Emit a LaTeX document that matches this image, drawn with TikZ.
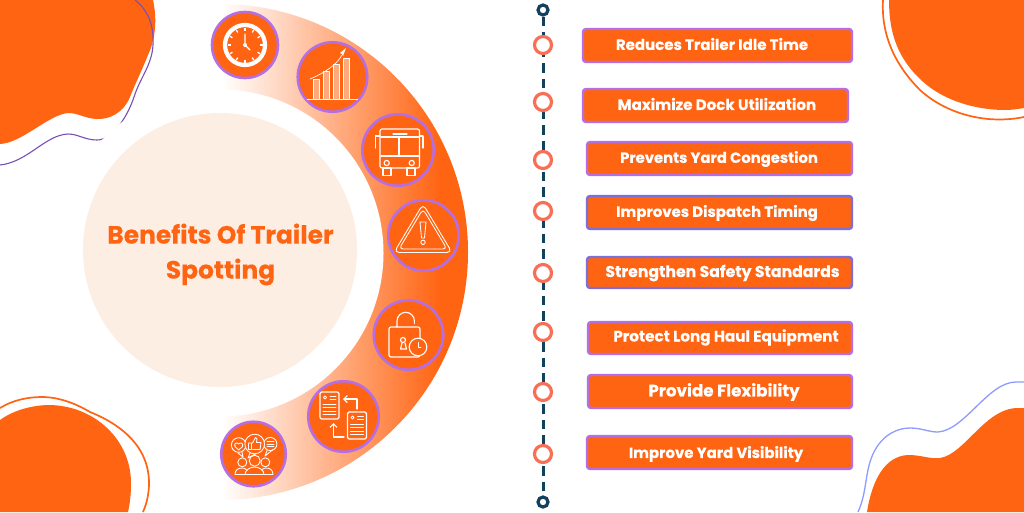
\documentclass[tikz,border=0pt]{standalone}
\usepackage{fontspec}
\setmainfont[BoldFeatures={FakeBold=0.25}]{Poppins}
\usetikzlibrary{arrows.meta}
\definecolor{org}{HTML}{FF6412}
\definecolor{cream}{HTML}{FDEEE3}
\definecolor{purp}{HTML}{B56FE2}
\definecolor{navy}{HTML}{12405F}
\definecolor{salmon}{HTML}{F96F55}
\definecolor{bluish}{HTML}{7C6FD8}
\definecolor{peri}{HTML}{8F9BFF}
\definecolor{vio}{HTML}{7A4FB8}
\tikzset{
 iconbg/.style={circle,fill=org,draw=purp,line width=2.6pt,minimum size=#1,inner sep=0pt,outer sep=0pt},
 benefit/.style={draw=purp,fill=org,line width=2.4pt,rounded corners=3pt,inner sep=0pt,outer sep=0pt,anchor=north west},
 stop/.style={circle,draw=salmon,fill=white,line width=3.2pt,minimum size=17pt,inner sep=0pt},
 endstop/.style={circle,draw=navy,fill=white,line width=3.2pt,minimum size=10pt,inner sep=0pt},
 ico/.style={draw=white,line width=1.15pt,line join=round,line cap=round},
 thinico/.style={draw=white,line width=.85pt,line join=round,line cap=round},
 ttl/.style={text=org,font=\bfseries\fontsize{24.9}{35}\selectfont,align=center},
 btext/.style={text=white,font=\bfseries\fontsize{#1}{16}\selectfont,inner sep=0pt}
}
\begin{document}
\begin{tikzpicture}[x=1pt,y=-1pt]
\useasboundingbox (0,0) rectangle (1024,512);
\fill[white] (0,0) rectangle (1024,512);
% corner blobs
\fill[org] (0,0) -- (153,0) .. controls (157,18) and (156,38) .. (148,55) .. controls (142,70) and (136,82) .. (130,97) .. controls (124,112) and (110,120) .. (96,119) .. controls (84,118) and (78,113) .. (68,113) .. controls (48,115) and (22,143) .. (0,144) -- cycle;
\draw[vio,line width=1.1pt] (135,0) .. controls (148,10) and (154,25) .. (153,45) .. controls (152,65) and (140,78) .. (134,97) .. controls (127,118) and (112,140) .. (97,140) .. controls (85,140) and (78,134) .. (68,134) .. controls (45,135) and (28,162) .. (0,165);
\fill[org] (0,420) .. controls (15,409) and (35,405) .. (50,405) .. controls (95,406) and (131,440) .. (131,483) .. controls (131,495) and (130,503) .. (128,512) -- (0,512) -- cycle;
\draw[org,line width=1.7pt] (0,408) .. controls (13,400) and (28,397) .. (42,397) .. controls (58,397) and (75,403) .. (90,412) .. controls (110,420) and (149,440) .. (149,483) .. controls (149,493) and (147,503) .. (143,512);
\fill[org] (867,512) .. controls (872,480) and (885,456) .. (908,455) .. controls (922,455) and (928,459) .. (940,458) .. controls (965,454) and (985,408) .. (1018,408) -- (1024,408) -- (1024,512) -- cycle;
\draw[peri,line width=1.3pt] (858,512) .. controls (868,490) and (864,470) .. (875,450) .. controls (884,434) and (898,428) .. (910,428) .. controls (922,428) and (928,432) .. (938,432) .. controls (965,430) and (988,382) .. (1016,382) -- (1024,382);
\fill[org] (889,0) .. controls (889,30) and (896,55) .. (918,77) .. controls (940,100) and (975,110) .. (1005,110) .. controls (1012,110) and (1018,109) .. (1024,108) -- (1024,0) -- cycle;
\draw[org,line width=1.7pt] (883,0) .. controls (881,35) and (895,65) .. (920,90) .. controls (945,113) and (985,125) .. (1024,117);
% gradient ring
\begin{scope}
 \clip (220,0) rectangle (480,512);
 \clip (220,252) circle[radius=248];
 \shade[left color=white,right color=org] (222,0) rectangle (440,512);
 \fill[org] (439.5,0) rectangle (480,512);
\end{scope}
\fill[white] (220,253) circle[radius=163.5];
\fill[cream] (220,250) circle[radius=137];
\node[ttl] (title) at (220.5,254.5) {Benefits Of Trailer\\Spotting};
% icon discs
\node[iconbg=66pt] (i1) at (245,45) {};
\node[iconbg=69.5pt] (i2) at (332.5,77) {};
\node[iconbg=71.5pt] (i3) at (398,150) {};
\node[iconbg=70.5pt] (i4) at (423.5,235.5) {};
\node[iconbg=69.5pt] (i5) at (408.5,335) {};
\node[iconbg=70.5pt] (i6) at (343.5,416.5) {};
\node[iconbg=64.5pt] (i7) at (253.5,454) {};
% clock
\begin{scope}[shift={(245,45)}]
 \draw[white,line width=4.2pt] (0,0) circle[radius=20];
 \foreach \a in {0,30,...,330} \draw[white,line width=1.3pt] (\a:14.5) -- (\a:17.5);
 \draw[white,line width=1.2pt,line cap=round] (0,-11) -- (0,0) -- (5,5);
 \fill[white] (0,0) circle[radius=2];
\end{scope}
% chart
\foreach \xa/\ya in {313/79,323/71,333/64,343/58}{
 \fill[white,opacity=.45] (\xa,\ya) rectangle (\xa+6,99);
 \draw[white,line width=.6pt] (\xa,\ya) rectangle (\xa+6,99);
}
\draw[white,line width=.7pt] (307,99) -- (358,99);
\draw[white,line width=.7pt] (310,79) .. controls (322,74) and (336,66) .. (342,55);
\fill[white] (346,48) -- (340,53) -- (342,54) -- (343,56) -- cycle;
% bus
\draw[ico,rounded corners=2pt] (380,129) rectangle (419.5,168);
\draw[ico] (381,137) -- (418.5,137) (381,156) -- (418.5,156) (399,137) -- (399,156);
\draw[ico] (393,134) -- (407,134);
\draw[ico] (386.7,163) circle[radius=2.6] (411.7,163) circle[radius=2.6];
\draw[ico] (383,168) rectangle (391,175.5) (407,168) rectangle (415,175.5);
\draw[ico] (380,136) -- (375.7,136) -- (375.7,148) (419.5,136) -- (423,136) -- (423,148);
% warning
\draw[thinico,rounded corners=5pt] (423,204) -- (452,252.5) -- (394,252.5) -- cycle;
\draw[thinico,rounded corners=4pt] (423,209) -- (447,249) -- (399,249) -- cycle;
\draw[thinico] (420,222) -- (426,222) -- (424.5,238) -- (421.5,238) -- cycle;
\draw[thinico] (423,242.3) circle[radius=2.2];
% lock
\draw[ico,rounded corners=2pt] (389,327) rectangle (420,357);
\draw[ico] (397,327) -- (397,321) arc[start angle=180,end angle=360,radius=8.7] -- (414.4,323.5);
\draw[ico] (403,340) circle[radius=2.5];
\draw[ico] (402,343) -- (400.5,349) -- (406.5,349) -- (405,343);
\draw[ico,fill=org] (418,347) circle[radius=8.8];
\draw[thinico] (418,342.5) -- (418,347.5) -- (421,347.5);
% documents
\foreach \xa/\ya in {320/392,347.5/412}{
 \begin{scope}[shift={(\xa,\ya)}]
 \draw[ico,rounded corners=1.5pt] (0,0) rectangle (19,27);
 \draw[thinico] (5,5.5) circle[radius=1.6];
 \draw[thinico] (10,4) -- (16,4) (10,7) -- (16,7) (3,12) -- (16,12) (3,15.5) -- (16,15.5) (3,19) -- (16,19) (3,22.5) -- (16,22.5);
 \end{scope}}
\draw[ico,-{Straight Barb[length=3.5pt,width=7pt]}] (357,409) -- (357,399) -- (343,399);
\draw[ico,-{Straight Barb[length=3.5pt,width=7pt]}] (344,437) -- (333.5,437) -- (333.5,423);
% people
\foreach \cx/\cy/\r in {242.3/462.3/4.5,265.3/462.3/4.5,254.7/460.7/5.5}{\draw[thinico] (\cx,\cy) circle[radius=\r];}
\draw[thinico] (235,474.5) .. controls (235,470) and (238,468) .. (242,468) .. controls (244,468) and (245,468.5) .. (247,470);
\draw[thinico] (262,470) .. controls (263,468.5) and (264,468) .. (266,468) .. controls (270,468) and (273,470) .. (273,474.5) -- (235,474.5);
\draw[thinico] (245,474.5) .. controls (245,470) and (250,467) .. (254.7,467) .. controls (259,467) and (264,470) .. (264,474.5);
\draw[thinico] (238.7,445) circle[radius=7.3];
\draw[thinico] (270.3,444) circle[radius=6.6];
\draw[thinico,fill=org] (254.7,444) circle[radius=9.8];
\draw[thinico] (267,450.5) -- (265,456) (273,449.5) -- (265,456) (242,452) -- (243,457) -- (238,453);
\draw[thinico] (250,453) -- (248,458) -- (256,453.5);
\draw[thinico] (248.5,443) rectangle (251.5,449.5) (252.5,443) -- (255.5,437.5) -- (257,439) -- (256.5,442.5) -- (261,442.5) -- (260,449.5) -- (252.5,449.5);
\draw[thinico] (238.7,450) -- (235,446.5) .. controls (233.5,443) and (237.5,442) .. (238.7,444) .. controls (240,442) and (244,443) .. (242.5,446.5) -- cycle;
\draw[thinico] (267,441.5) -- (274,441.5) (267,444) -- (274,444) (267,446.5) -- (274,446.5);
% timeline
\node[endstop] (top) at (543,10) {};
\node[endstop] (bot) at (543,502) {};
\draw[navy,line width=3pt,dash pattern=on 9.5pt off 6pt] (top) -- (bot);
\foreach \n/\y in {a/45,b/102,c/160,d/211,e/273,f/332,g/392,h/454}{\node[stop] (s\n) at (543,\y) {};}
% benefit boxes
\node[benefit,minimum width=269pt,minimum height=33pt] (b1) at (583,29) {};
\node[benefit,minimum width=265pt,minimum height=33pt] (b2) at (583,89) {};
\node[benefit,minimum width=265pt,minimum height=33pt] (b3) at (587,142) {};
\node[benefit,draw=bluish,minimum width=265pt,minimum height=33pt] (b4) at (587,196) {};
\node[benefit,draw=bluish,minimum width=265pt,minimum height=31pt] (b5) at (587,257) {};
\node[benefit,minimum width=264pt,minimum height=32pt] (b6) at (588,322) {};
\node[benefit,minimum width=264pt,minimum height=33pt] (b7) at (588,375) {};
\node[benefit,minimum width=265pt,minimum height=33pt] (b8) at (587,436) {};
\node[btext=15] (t1) at (712,44) {Reduces Trailer Idle Time};
\node[btext=15.1] (t2) at (717,104) {Maximize Dock Utilization};
\node[btext=14.8] (t3) at (719,159) {Prevents Yard Congestion};
\node[btext=14.9] (t4) at (717,213) {Improves Dispatch Timing};
\node[btext=15.7] (t5) at (722.5,273) {Strengthen Safety Standards};
\node[btext=15.2] (t6) at (726,337.5) {Protect Long Haul Equipment};
\node[btext=16.7] (t7) at (724,392) {Provide Flexibility};
\node[btext=14.9] (t8) at (716,454) {Improve Yard Visibility};
\end{tikzpicture}
\end{document}
